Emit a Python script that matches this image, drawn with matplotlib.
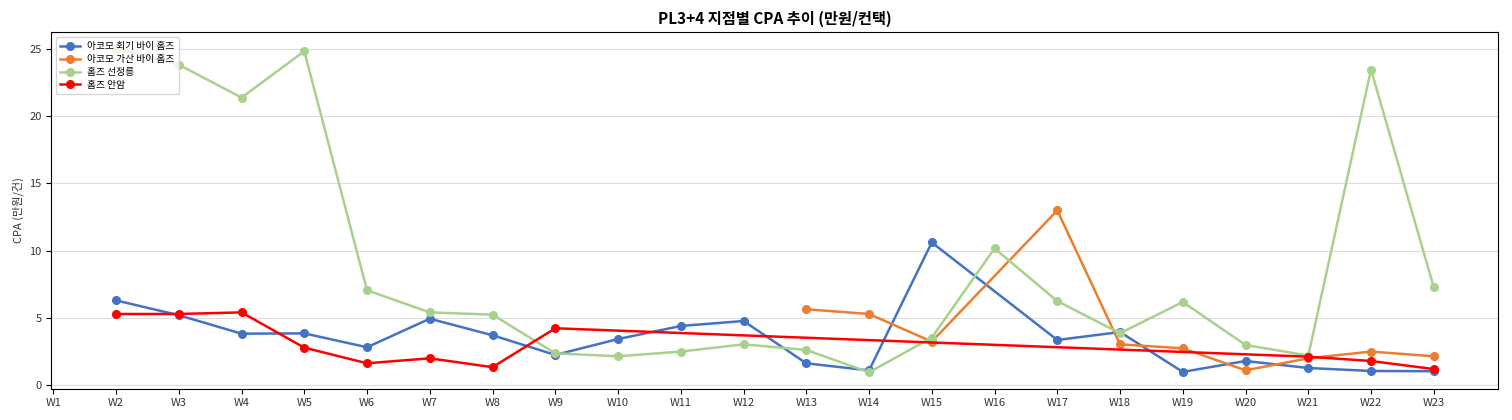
import numpy as np
import matplotlib
matplotlib.use('Agg')
import matplotlib.pyplot as plt

plt.rcParams['font.family'] = ['Noto Sans CJK KR', 'DejaVu Sans']

# 주차 라벨
weeks = ['W%d' % i for i in range(1, 24)]

# 지점별 CPA (만원/건), None = 데이터 없음
cpa_hoegi = [None, 6.3, 5.2, 3.83, 3.85, 2.82, 4.94, 3.71, 2.25, 3.43, 4.4, 4.77,
             1.63, 1.1, 10.6, None, 3.36, 3.95, 0.99, 1.8, 1.28, 1.06, 1.04]
cpa_gasan = [None, None, None, None, None, None, None, None, None, None, None, None,
             5.64, 5.29, 3.24, None, 12.98, 3.04, 2.74, 1.11, 2.0, 2.5, 2.15]
cpa_seonjeong = [None, 25.0, 23.8, 21.36, 24.8, 7.05, 5.41, 5.24, 2.37, 2.15, 2.5, 3.04,
                 2.62, 0.96, 3.53, 10.16, 6.25, 3.86, 6.18, 2.99, 2.2, 23.44, 7.27]
cpa_anam = [None, 5.29, 5.29, 5.41, 2.79, 1.63, 2.0, 1.34, 4.23, None, None, None,
            None, None, None, None, None, None, None, None, 2.12, 1.8, 1.2]

names = ['아코모 회기 바이 홈즈', '아코모 가산 바이 홈즈', '홈즈 선정릉', '홈즈 안암']
colors = ['#4472C4', '#ED7D31', '#A9D18E', '#FF0000']

fig, ax = plt.subplots(figsize=(15.12, 4.2), dpi=100)
fig.subplots_adjust(left=0.034, right=0.991, top=0.923, bottom=0.075)

x = np.arange(len(weeks))
for vals, name, c in zip([cpa_hoegi, cpa_gasan, cpa_seonjeong, cpa_anam], names, colors):
    # 값이 있는 주차만 연결
    xs = [i for i, v in zip(x, vals) if v is not None]
    ys = [v for v in vals if v is not None]
    ax.plot(xs, ys, marker='o', color=c, linewidth=1.8, markersize=5.5, label=name)

ax.set_xticks(x)
ax.set_xticklabels(weeks, fontsize=8)
ax.set_xlim(-0.03, 23.03)
ax.set_yticks([0, 5, 10, 15, 20, 25])
ax.tick_params(axis='both', labelsize=8, labelcolor='#333333')
ax.set_ylabel('CPA (만원/건)', fontsize=8, color='#333333')
ax.set_title('PL3+4 지점별 CPA 추이 (만원/컨택)', fontsize=11, fontweight='bold')
ax.grid(axis='y', color='#dddddd', linewidth=0.8)
ax.set_axisbelow(True)
ax.legend(loc='upper left', fontsize=7, borderpad=0.4, labelspacing=0.3)

plt.savefig('out.png')
